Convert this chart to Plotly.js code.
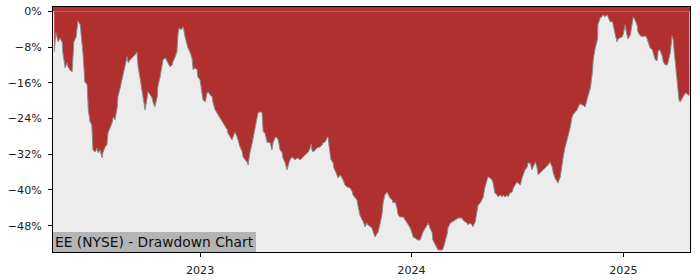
<!DOCTYPE html>
<html>
<head>
<meta charset="utf-8">
<script src="https://cdn.plot.ly/plotly-3.0.1.min.js"></script>
<style>html,body{margin:0;padding:0;background:#fff;}#chart{width:700px;height:280px;}</style>
</head>
<body>
<div id="chart"></div>
<script>
const dates = [
"2022-04-24","2022-04-27","2022-05-01","2022-05-04","2022-05-08","2022-05-09","2022-05-13","2022-05-16","2022-05-18","2022-05-21",
"2022-05-25","2022-05-27","2022-05-28","2022-06-01","2022-06-03","2022-06-04","2022-06-08","2022-06-11","2022-06-13","2022-06-16",
"2022-06-20","2022-06-22","2022-06-25","2022-06-28","2022-06-30","2022-07-04","2022-07-07","2022-07-09","2022-07-12","2022-07-16",
"2022-07-17","2022-07-21","2022-07-24","2022-07-26","2022-07-30","2022-08-02","2022-08-04","2022-08-07","2022-08-11","2022-08-12",
"2022-08-16","2022-08-19","2022-08-21","2022-08-24","2022-08-28","2022-08-30","2022-09-02","2022-09-06","2022-09-11","2022-09-14",
"2022-09-16","2022-09-19","2022-09-23","2022-09-25","2022-09-28","2022-10-01","2022-10-03","2022-10-07","2022-10-10","2022-10-12",
"2022-10-15","2022-10-19","2022-10-20","2022-10-24","2022-10-27","2022-10-29","2022-11-02","2022-11-05","2022-11-07","2022-11-10",
"2022-11-14","2022-11-15","2022-11-19","2022-11-22","2022-11-24","2022-11-26","2022-11-29","2022-12-03","2022-12-06","2022-12-10",
"2022-12-11","2022-12-15","2022-12-18","2022-12-20","2022-12-23","2022-12-27","2022-12-28","2023-01-01","2023-01-04","2023-01-06",
"2023-01-10","2023-01-13","2023-01-15","2023-01-18","2023-01-22","2023-01-23","2023-01-27","2023-01-30","2023-02-01","2023-02-05",
"2023-02-08","2023-02-10","2023-02-13","2023-02-17","2023-02-18","2023-02-22","2023-02-25","2023-02-27","2023-03-02","2023-03-06",
"2023-03-08","2023-03-11","2023-03-15","2023-03-16","2023-03-20","2023-03-23","2023-03-25","2023-03-28","2023-04-01","2023-04-03",
"2023-04-06","2023-04-09","2023-04-11","2023-04-15","2023-04-18","2023-04-20","2023-04-23","2023-04-27","2023-04-28","2023-05-02",
"2023-05-05","2023-05-07","2023-05-11","2023-05-14","2023-05-16","2023-05-19","2023-05-23","2023-05-24","2023-05-28","2023-05-31",
"2023-06-02","2023-06-05","2023-06-09","2023-06-11","2023-06-14","2023-06-18","2023-06-23","2023-06-26","2023-07-01","2023-07-05",
"2023-07-07","2023-07-10","2023-07-12","2023-07-13","2023-07-15","2023-07-19","2023-07-22","2023-07-27","2023-07-31","2023-08-01",
"2023-08-05","2023-08-08","2023-08-10","2023-08-12","2023-08-15","2023-08-19","2023-08-20","2023-08-24","2023-08-27","2023-08-31",
"2023-09-03","2023-09-05","2023-09-08","2023-09-12","2023-09-17","2023-09-21","2023-09-22","2023-09-26","2023-09-29","2023-10-01",
"2023-10-04","2023-10-08","2023-10-10","2023-10-13","2023-10-16","2023-10-18","2023-10-22","2023-10-25","2023-10-27","2023-10-30",
"2023-11-03","2023-11-04","2023-11-08","2023-11-11","2023-11-13","2023-11-16","2023-11-20","2023-11-22","2023-11-25","2023-11-29",
"2023-11-30","2023-12-04","2023-12-07","2023-12-09","2023-12-12","2023-12-18","2023-12-21","2023-12-24","2023-12-26","2023-12-30",
"2024-01-02","2024-01-04","2024-01-07","2024-01-12","2024-01-16","2024-01-19","2024-01-21","2024-01-25","2024-01-28","2024-01-30",
"2024-02-02","2024-02-06","2024-02-07","2024-02-11","2024-02-14","2024-02-16","2024-02-19","2024-02-23","2024-02-25","2024-02-28",
"2024-03-03","2024-03-04","2024-03-08","2024-03-11","2024-03-16","2024-03-22","2024-03-28","2024-03-30","2024-04-03","2024-04-06",
"2024-04-08","2024-04-11","2024-04-15","2024-04-16","2024-04-20","2024-04-23","2024-04-25","2024-04-29","2024-05-02","2024-05-04",
"2024-05-07","2024-05-11","2024-05-12","2024-05-16","2024-05-19","2024-05-21","2024-05-24","2024-05-28","2024-05-30","2024-06-02",
"2024-06-06","2024-06-07","2024-06-11","2024-06-14","2024-06-16","2024-06-19","2024-06-23","2024-06-25","2024-06-28","2024-07-01",
"2024-07-03","2024-07-07","2024-07-10","2024-07-12","2024-07-15","2024-07-19","2024-07-20","2024-07-24","2024-07-27","2024-07-29",
"2024-08-02","2024-08-05","2024-08-07","2024-08-10","2024-08-15","2024-08-19","2024-08-24","2024-08-27","2024-08-31","2024-09-02",
"2024-09-05","2024-09-09","2024-09-10","2024-09-14","2024-09-17","2024-09-19","2024-09-22","2024-09-26","2024-09-28","2024-10-01",
"2024-10-04","2024-10-06","2024-10-10","2024-10-13","2024-10-15","2024-10-18","2024-10-22","2024-10-27","2024-10-30","2024-11-05",
"2024-11-08","2024-11-10","2024-11-13","2024-11-17","2024-11-18","2024-11-22","2024-11-25","2024-11-27","2024-11-30","2024-12-04",
"2024-12-06","2024-12-09","2024-12-13","2024-12-14","2024-12-18","2024-12-21","2024-12-23","2024-12-26","2024-12-30","2025-01-01",
"2025-01-04","2025-01-07","2025-01-09","2025-01-13","2025-01-16","2025-01-18","2025-01-21","2025-01-25","2025-01-26","2025-01-30",
"2025-02-04","2025-02-08","2025-02-11","2025-02-13","2025-02-16","2025-02-20","2025-02-21","2025-02-25","2025-02-28","2025-03-02",
"2025-03-05","2025-03-09","2025-03-11","2025-03-14","2025-03-18","2025-03-19","2025-03-23","2025-03-26","2025-03-28","2025-03-30",
"2025-04-02","2025-04-04","2025-04-07","2025-04-09","2025-04-12","2025-04-16","2025-04-18","2025-04-21","2025-04-25"
];
const drawdown = [
-9.04,-4.78,-6.80,-5.91,-7.02,-9.26,-12.63,-11.51,-12.40,-13.08,
-13.53,-8.59,-6.80,-5.67,-2.31,-2.09,-2.98,-7.02,-9.71,-15.77,
-16.44,-22.05,-24.74,-25.41,-31.02,-31.47,-30.57,-31.69,-31.02,-32.82,
-31.69,-30.35,-29.90,-27.21,-26.09,-24.97,-23.62,-24.29,-21.38,-19.13,
-17.11,-15.32,-13.53,-12.40,-10.16,-11.51,-10.83,-10.39,-9.71,-9.04,
-12.40,-14.65,-18.01,-20.48,-22.05,-19.81,-18.01,-18.68,-19.36,-20.48,
-21.38,-19.13,-16.89,-14.65,-12.40,-10.83,-10.39,-11.28,-11.51,-12.40,
-11.95,-11.28,-10.16,-9.04,-4.78,-3.66,-4.10,-3.43,-5.67,-7.92,
-8.14,-9.26,-10.39,-13.08,-12.63,-13.08,-14.65,-15.32,-17.56,-19.81,
-20.26,-18.24,-18.01,-18.68,-19.13,-20.26,-22.05,-22.72,-23.17,-23.84,
-24.74,-24.97,-25.86,-26.53,-27.21,-28.33,-28.78,-28.11,-26.98,-28.11,
-29.23,-30.35,-31.47,-32.59,-33.26,-33.71,-34.39,-31.69,-29.45,-28.11,
-25.86,-24.29,-22.72,-22.50,-22.72,-26.98,-27.21,-29.45,-29.23,-29.45,
-31.02,-29.45,-28.11,-28.33,-28.78,-31.02,-31.69,-32.82,-33.94,-35.51,
-34.39,-33.26,-32.59,-32.82,-33.26,-32.82,-33.26,-32.82,-32.14,-31.69,
-31.47,-30.57,-29.67,-31.02,-31.47,-31.02,-30.57,-30.35,-29.90,-29.45,
-29.23,-28.33,-28.11,-30.35,-33.26,-33.94,-35.06,-36.18,-37.30,-36.63,
-37.30,-37.75,-38.87,-39.32,-39.54,-40.44,-41.11,-41.79,-42.24,-43.81,
-45.60,-46.72,-47.17,-48.29,-47.40,-47.84,-48.29,-48.52,-49.42,-50.54,
-49.64,-49.64,-47.40,-45.60,-42.91,-41.11,-40.44,-41.11,-41.79,-42.24,
-42.91,-42.69,-44.03,-45.60,-46.05,-46.05,-46.72,-47.40,-47.84,-48.52,
-49.64,-50.54,-50.76,-51.21,-51.21,-50.09,-49.42,-48.52,-47.84,-47.40,
-48.52,-49.64,-51.21,-52.33,-52.78,-53.45,-53.45,-53.45,-53.00,-51.66,
-49.64,-48.52,-47.40,-47.17,-46.72,-46.27,-46.27,-46.72,-47.17,-47.40,
-47.84,-47.40,-47.84,-48.29,-47.17,-44.93,-43.36,-42.91,-42.24,-41.56,
-39.32,-37.30,-37.08,-37.30,-37.75,-38.42,-40.66,-41.11,-41.56,-41.11,
-41.56,-41.11,-41.56,-41.11,-41.56,-40.66,-40.44,-39.54,-38.87,-38.20,
-38.42,-38.87,-37.30,-36.63,-35.51,-34.84,-33.94,-33.94,-35.51,-34.84,
-33.71,-35.06,-36.63,-36.18,-35.51,-35.06,-34.39,-33.71,-34.84,-36.18,
-37.30,-38.20,-38.42,-37.08,-33.94,-32.59,-30.57,-28.78,-27.66,-26.09,
-23.84,-23.17,-22.50,-22.05,-21.38,-20.70,-20.93,-21.38,-19.81,-17.11,
-14.20,-10.83,-8.37,-6.35,-2.98,-1.41,-1.19,-0.74,-1.19,-0.74,
-1.41,-2.31,-2.31,-2.76,-5.23,-6.80,-6.12,-5.90,-5.67,-5.00,
-2.98,-5.23,-6.12,-5.23,-2.09,-1.19,-1.86,-3.20,-4.55,-5.45,
-5.67,-5.45,-6.12,-6.80,-8.14,-8.59,-9.04,-10.83,-11.06,-8.82,
-8.59,-9.94,-11.28,-11.96,-11.96,-11.28,-9.26,-5.45,-6.35,-9.26,
-13.08,-16.89,-19.81,-20.26,-19.58,-18.91,-18.24,-18.46,-18.91
];
const yTickVals = [0, -8, -16, -24, -32, -40, -48];
const yTickText = ["0%", "\u22128%", "\u221216%", "\u221224%", "\u221232%", "\u221240%", "\u221248%"];
const xTickVals = ["2023-01-01", "2024-01-01", "2025-01-01"];
const xTickText = ["2023", "2024", "2025"];
const xRange = ["2022-04-22", "2025-04-26"];
const yRange = [-53.9, 0.99];
const chartLabel = "EE (NYSE) - Drawdown Chart";

const RED = "#b03030";
const font = "DejaVu Sans, sans-serif";

const trace = {
  x: dates, y: drawdown, type: "scatter", mode: "lines",
  line: {color: "#8a8a8a", width: 1},
  fill: "tozeroy", fillcolor: RED, hoverinfo: "skip"
};

const axisCommon = {
  showgrid: false, zeroline: false, showline: true, mirror: true,
  linecolor: "#000", linewidth: 1, ticks: "outside", ticklen: 4,
  tickcolor: "#000", tickwidth: 1, tickfont: {family: font, size: 11.1, color: "#222"},
  ticklabelstandoff: 4
};

const layout = {
  width: 700, height: 280,
  margin: {l: 53, r: 10, t: 7, b: 28, pad: 0},
  paper_bgcolor: "#ffffff", plot_bgcolor: "#ececec",
  showlegend: false,
  xaxis: Object.assign({}, axisCommon, {type: "date", range: xRange, tickvals: xTickVals, ticktext: xTickText}),
  yaxis: Object.assign({}, axisCommon, {range: yRange, tickvals: yTickVals, ticktext: yTickText}),
  shapes: [{type: "rect", xref: "paper", x0: 0, x1: 1, yref: "y", y0: 0, y1: yRange[1],
            fillcolor: RED, line: {width: 0}, layer: "below"}],
  annotations: [{
    text: chartLabel, xref: "paper", yref: "paper", x: 0, y: 0,
    xanchor: "left", yanchor: "bottom", showarrow: false,
    bgcolor: "#b4b4b4", borderwidth: 0, borderpad: 2,
    font: {family: font, size: 13.8, color: "#111"}
  }]
};

Plotly.newPlot("chart", [trace], layout, {staticPlot: true, displayModeBar: false});
</script>
</body>
</html>
